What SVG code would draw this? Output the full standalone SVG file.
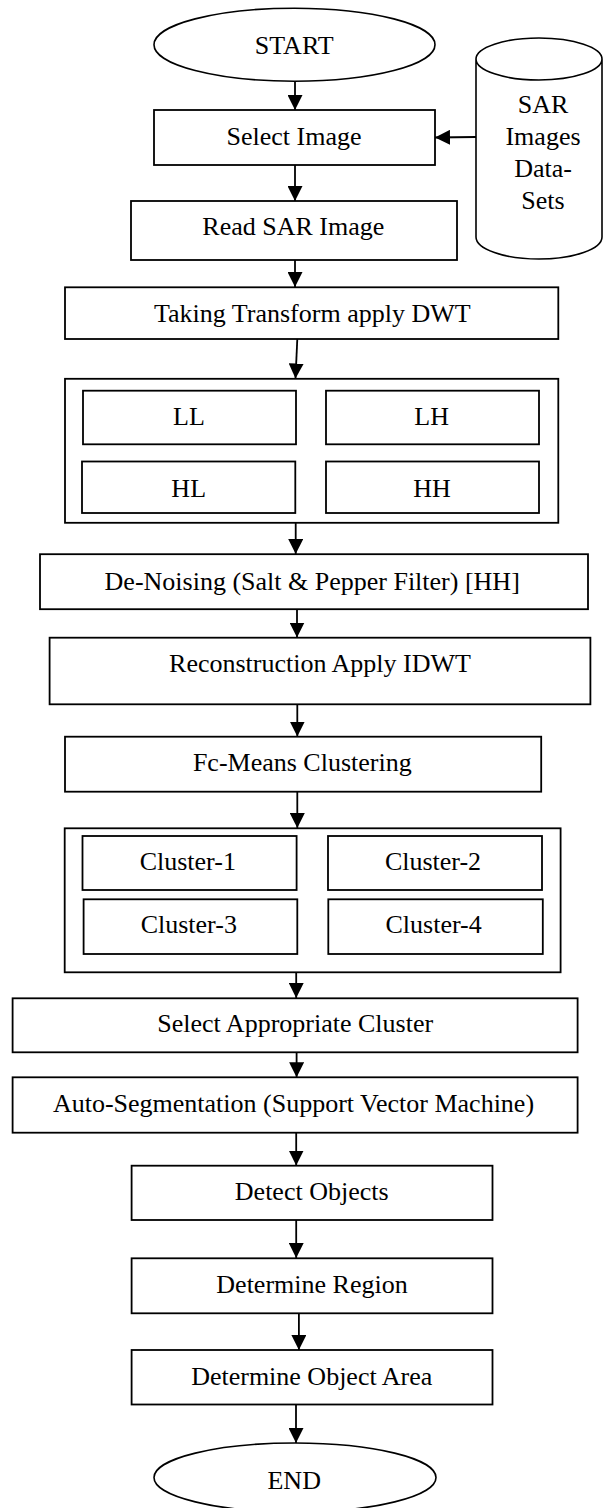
<svg xmlns="http://www.w3.org/2000/svg" width="604" height="1508" viewBox="0 0 604 1508">
<style>
.bx{fill:#fff;stroke:#000;stroke-width:1.8}
.el{fill:#fff;stroke:#000;stroke-width:1.6}
.t{font-family:"Liberation Serif","Times New Roman",serif;font-size:26px;fill:#000;text-anchor:middle}
.c{fill:none;stroke:#000;stroke-width:1.8}
</style>
<defs>
<marker id="ah" markerUnits="userSpaceOnUse" markerWidth="15" markerHeight="15" viewBox="0 0 15 15" refX="15" refY="7.5" orient="auto">
<path d="M0,0 L15,7.5 L0,15 z" fill="#000"/>
</marker>
</defs>
<rect width="604" height="1508" fill="#fff"/>
<g id="connectors">
<line class="c" x1="295" y1="81" x2="295" y2="110" marker-end="url(#ah)"/>
<line class="c" x1="295" y1="165" x2="295" y2="201" marker-end="url(#ah)"/>
<line class="c" x1="295" y1="260" x2="295" y2="287" marker-end="url(#ah)"/>
<line class="c" x1="297.3" y1="339" x2="295.5" y2="378.5" marker-end="url(#ah)"/>
<line class="c" x1="295.7" y1="523" x2="295.7" y2="554" marker-end="url(#ah)"/>
<line class="c" x1="297" y1="609" x2="297" y2="637.5" marker-end="url(#ah)"/>
<line class="c" x1="297.3" y1="704" x2="297.3" y2="736.5" marker-end="url(#ah)"/>
<line class="c" x1="297.3" y1="792" x2="297.3" y2="828" marker-end="url(#ah)"/>
<line class="c" x1="296.2" y1="965.7" x2="296.2" y2="998" marker-end="url(#ah)"/>
<line class="c" x1="296.6" y1="1052" x2="296.6" y2="1077.3" marker-end="url(#ah)"/>
<line class="c" x1="296.2" y1="1133" x2="296.2" y2="1165.5" marker-end="url(#ah)"/>
<line class="c" x1="296.2" y1="1220" x2="296.2" y2="1258" marker-end="url(#ah)"/>
<line class="c" x1="298.9" y1="1313" x2="298.9" y2="1350" marker-end="url(#ah)"/>
<line class="c" x1="296" y1="1404.5" x2="296" y2="1443" marker-end="url(#ah)"/>
<line class="c" x1="476" y1="137" x2="435" y2="137.5" marker-end="url(#ah)"/>
</g>
<g id="start">
<ellipse class="el" cx="294.5" cy="44.7" rx="140.5" ry="36.5"/>
<text class="t" x="294.2" y="54">START</text>
</g>
<g id="dataset">
<path class="el" d="M476,59 L476,237 A63,22 0 0 0 602,237 L602,59 A63,21 0 0 0 476,59 A63,21 0 0 0 602,59"/>
<text class="t" x="543" y="113">SAR</text>
<text class="t" x="543" y="145">Images</text>
<text class="t" x="543" y="177">Data-</text>
<text class="t" x="543" y="209">Sets</text>
</g>
<g id="select-image">
<rect class="bx" x="154" y="110" width="281" height="55"/>
<text class="t" x="294" y="145">Select Image</text>
</g>
<g id="read-sar">
<rect class="bx" x="131" y="201" width="326" height="59"/>
<text class="t" x="293.3" y="235">Read SAR Image</text>
</g>
<g id="dwt">
<rect class="bx" x="65" y="287.3" width="493.3" height="51.7"/>
<text class="t" x="312.3" y="322.3">Taking Transform apply DWT</text>
</g>
<g id="subbands">
<rect class="bx" x="65" y="378.8" width="493.3" height="144"/>
<rect class="bx" x="83" y="390.7" width="213" height="53.6"/>
<text class="t" x="189" y="425">LL</text>
<rect class="bx" x="326" y="390.7" width="213" height="53.6"/>
<text class="t" x="431.7" y="425">LH</text>
<rect class="bx" x="82" y="461.5" width="213.3" height="51.5"/>
<text class="t" x="188.7" y="496.7">HL</text>
<rect class="bx" x="326" y="461.5" width="213" height="51.5"/>
<text class="t" x="432" y="496.7">HH</text>
</g>
<g id="denoise">
<rect class="bx" x="40" y="554.2" width="548" height="55"/>
<text class="t" x="312.2" y="590">De-Noising (Salt &amp; Pepper Filter) [HH]</text>
</g>
<g id="idwt">
<rect class="bx" x="49.6" y="637.7" width="540.8" height="66.6"/>
<text class="t" x="320" y="671.7">Reconstruction Apply IDWT</text>
</g>
<g id="fcm">
<rect class="bx" x="65" y="736.7" width="476.2" height="55"/>
<text class="t" x="302.3" y="770.7">Fc-Means Clustering</text>
</g>
<g id="clusters">
<rect class="bx" x="64.7" y="828.3" width="495.9" height="144"/>
<rect class="bx" x="82.5" y="836" width="214.1" height="54"/>
<text class="t" x="187.8" y="870">Cluster-1</text>
<rect class="bx" x="328" y="836" width="214" height="54"/>
<text class="t" x="433" y="870">Cluster-2</text>
<rect class="bx" x="83.6" y="899.3" width="213.7" height="54.7"/>
<text class="t" x="188.8" y="933.3">Cluster-3</text>
<rect class="bx" x="328.3" y="899.3" width="214.5" height="54.7"/>
<text class="t" x="433.6" y="933.3">Cluster-4</text>
</g>
<g id="select-cluster">
<rect class="bx" x="12.6" y="998.3" width="565" height="54"/>
<text class="t" x="295.2" y="1031.7">Select Appropriate Cluster</text>
</g>
<g id="svm">
<rect class="bx" x="12.6" y="1077.3" width="565" height="55.4"/>
<text class="t" x="293.5" y="1112.3">Auto-Segmentation (Support Vector Machine)</text>
</g>
<g id="detect">
<rect class="bx" x="131.6" y="1165.7" width="360.9" height="54.3"/>
<text class="t" x="311.7" y="1200">Detect Objects</text>
</g>
<g id="region">
<rect class="bx" x="131.6" y="1258.3" width="360.9" height="55"/>
<text class="t" x="312" y="1292.7">Determine Region</text>
</g>
<g id="area">
<rect class="bx" x="131.6" y="1350" width="360.9" height="54.5"/>
<text class="t" x="311.7" y="1385">Determine Object Area</text>
</g>
<g id="end">
<ellipse class="el" cx="295" cy="1477.5" rx="141" ry="34.5"/>
<text class="t" x="294.2" y="1489">END</text>
</g>
</svg>
